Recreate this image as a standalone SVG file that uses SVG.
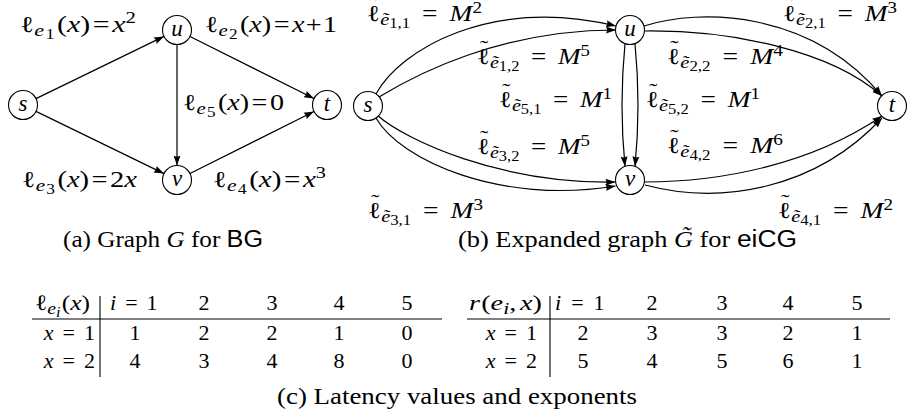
<svg xmlns="http://www.w3.org/2000/svg" width="908" height="420" viewBox="0 0 908 420">
<defs>
<style>
.t { font-family: "Liberation Serif", "Times New Roman", serif; font-size: 23px; fill: #000; }
.tb { font-family: "Liberation Serif", "Times New Roman", serif; font-size: 22px; fill: #000; }
.i { font-style: italic; }
.sb { font-size: 17px; }
.ss { font-size: 14px; }
.sp { font-size: 16px; }
.td { font-size: 21px; }
.sf { font-family: "Liberation Sans", Arial, sans-serif; }
.c { text-anchor: middle; }
.r { text-anchor: end; }
.n { fill: #fff; stroke: #000; stroke-width: 1.1; }
.e { fill: none; stroke: #000; stroke-width: 1.2; marker-end: url(#ah); }
.ln { stroke: #000; stroke-width: 1.1; fill: none; }
</style>
<marker id="ah" markerWidth="10" markerHeight="8" refX="10" refY="4" orient="auto" markerUnits="userSpaceOnUse">
<path d="M0,0.5 L10,4 L0,7.5 Q2,4 0,0.5 Z" fill="#000"/>
</marker>
</defs>

<!-- (a) connectors -->
<g id="edges-a">
<line class="e" x1="36" y1="98.6" x2="164" y2="36.4"/>
<line class="e" x1="190" y1="36.5" x2="314" y2="98.5"/>
<line class="e" x1="36" y1="111.4" x2="164" y2="173.6"/>
<line class="e" x1="190" y1="173.5" x2="314" y2="111.5"/>
<line class="e" x1="177" y1="44.5" x2="177" y2="165.5"/>
</g>

<g id="a-s"><circle class="n" cx="23" cy="105" r="14.5"/><text class="t i c" x="23" y="111">s</text></g>
<g id="a-u"><circle class="n" cx="177" cy="30" r="14.5"/><text class="t i c" x="177" y="36">u</text></g>
<g id="a-v"><circle class="n" cx="177" cy="180" r="14.5"/><text class="t i c" x="177" y="186">v</text></g>
<g id="a-t"><circle class="n" cx="327" cy="105" r="14.5"/><text class="t i c" x="327" y="111">t</text></g>

<g id="labels-a">
<text class="t" x="20" y="32" textLength="116" lengthAdjust="spacingAndGlyphs">ℓ<tspan class="i sb" dy="4">e</tspan><tspan class="ss" dx="1" dy="3">1</tspan><tspan dx="2" dy="-7">(</tspan><tspan class="i">x</tspan>)<tspan dx="2">=</tspan><tspan class="i" dx="2">x</tspan><tspan class="sp" dy="-9">2</tspan></text>
<text class="t" x="205" y="32" textLength="132" lengthAdjust="spacingAndGlyphs">ℓ<tspan class="i sb" dy="4">e</tspan><tspan class="ss" dx="1" dy="3">2</tspan><tspan dx="2" dy="-7">(</tspan><tspan class="i">x</tspan>)<tspan dx="2">=</tspan><tspan class="i" dx="2">x</tspan><tspan dx="1">+</tspan><tspan dx="1">1</tspan></text>
<text class="t" x="183" y="110" textLength="101" lengthAdjust="spacingAndGlyphs">ℓ<tspan class="i sb" dy="4">e</tspan><tspan class="ss" dx="1" dy="3">5</tspan><tspan dx="2" dy="-7">(</tspan><tspan class="i">x</tspan>)<tspan dx="2">=</tspan><tspan dx="2">0</tspan></text>
<text class="t" x="22" y="187" textLength="115" lengthAdjust="spacingAndGlyphs">ℓ<tspan class="i sb" dy="4">e</tspan><tspan class="ss" dx="1" dy="3">3</tspan><tspan dx="2" dy="-7">(</tspan><tspan class="i">x</tspan>)<tspan dx="2">=</tspan><tspan dx="2">2</tspan><tspan class="i">x</tspan></text>
<text class="t" x="213" y="187" textLength="113" lengthAdjust="spacingAndGlyphs">ℓ<tspan class="i sb" dy="4">e</tspan><tspan class="ss" dx="1" dy="3">4</tspan><tspan dx="2" dy="-7">(</tspan><tspan class="i">x</tspan>)<tspan dx="2">=</tspan><tspan class="i" dx="2">x</tspan><tspan class="sp" dy="-9">3</tspan></text>
<text class="t" x="63" y="247" textLength="200" lengthAdjust="spacingAndGlyphs">(a) Graph <tspan class="i">G</tspan> for <tspan class="sf">BG</tspan></text>
</g>

<!-- (b) connectors -->
<g id="edges-b">
<path class="e" d="M376,94 C400,50 490,-4 616,26"/>
<path class="e" d="M379,97 C415,75 500,30 616,30"/>
<path class="e" d="M644,26 C700,8 810,10 882,96"/>
<path class="e" d="M645,31 C730,30 830,50 882,96"/>
<path class="e" d="M377,115 C405,140 500,184 615.5,182"/>
<path class="e" d="M376,118 C400,160 500,205 615.5,186"/>
<path class="e" d="M644,182 C720,182 810,165 882,116"/>
<path class="e" d="M645,185 C720,205 815,190 882,118"/>
<path class="e" d="M625,43.6 Q619,105 625,166.4"/>
<path class="e" d="M635,43.6 Q641,105 635,166.4"/>
</g>

<g id="b-s"><circle class="n" cx="368" cy="106" r="14.5"/><text class="t i c" x="368" y="112">s</text></g>
<g id="b-u"><circle class="n" cx="630" cy="30" r="14.5"/><text class="t i c" x="630" y="36">u</text></g>
<g id="b-v"><circle class="n" cx="630" cy="180" r="14.5"/><text class="t i c" x="630" y="186">v</text></g>
<g id="b-t"><circle class="n" cx="892" cy="106" r="14.5"/><text class="t i c" x="892" y="112">t</text></g>

<g id="labels-b">
<text class="t" x="367" y="21" textLength="115" lengthAdjust="spacingAndGlyphs">ℓ<tspan class="td" dx="-8.5" dy="-9">˜</tspan><tspan class="i sb" dx="1.5" dy="13">ẽ</tspan><tspan class="ss" dy="3">1,1</tspan><tspan dx="10" dy="-7">=</tspan><tspan class="i" dx="10">M</tspan><tspan class="sp" dy="-8">2</tspan></text>
<text class="t" x="477" y="64" textLength="113" lengthAdjust="spacingAndGlyphs">ℓ<tspan class="td" dx="-8.5" dy="-9">˜</tspan><tspan class="i sb" dx="1.5" dy="13">ẽ</tspan><tspan class="ss" dy="3">1,2</tspan><tspan dx="10" dy="-7">=</tspan><tspan class="i" dx="10">M</tspan><tspan class="sp" dy="-8">5</tspan></text>
<text class="t" x="499" y="107" textLength="113" lengthAdjust="spacingAndGlyphs">ℓ<tspan class="td" dx="-8.5" dy="-9">˜</tspan><tspan class="i sb" dx="1.5" dy="13">ẽ</tspan><tspan class="ss" dy="3">5,1</tspan><tspan dx="10" dy="-7">=</tspan><tspan class="i" dx="10">M</tspan><tspan class="sp" dy="-8">1</tspan></text>
<text class="t" x="783" y="21" textLength="114" lengthAdjust="spacingAndGlyphs">ℓ<tspan class="td" dx="-8.5" dy="-9">˜</tspan><tspan class="i sb" dx="1.5" dy="13">ẽ</tspan><tspan class="ss" dy="3">2,1</tspan><tspan dx="10" dy="-7">=</tspan><tspan class="i" dx="10">M</tspan><tspan class="sp" dy="-8">3</tspan></text>
<text class="t" x="667" y="64" textLength="116" lengthAdjust="spacingAndGlyphs">ℓ<tspan class="td" dx="-8.5" dy="-9">˜</tspan><tspan class="i sb" dx="1.5" dy="13">ẽ</tspan><tspan class="ss" dy="3">2,2</tspan><tspan dx="10" dy="-7">=</tspan><tspan class="i" dx="10">M</tspan><tspan class="sp" dy="-8">4</tspan></text>
<text class="t" x="646" y="107" textLength="114" lengthAdjust="spacingAndGlyphs">ℓ<tspan class="td" dx="-8.5" dy="-9">˜</tspan><tspan class="i sb" dx="1.5" dy="13">ẽ</tspan><tspan class="ss" dy="3">5,2</tspan><tspan dx="10" dy="-7">=</tspan><tspan class="i" dx="10">M</tspan><tspan class="sp" dy="-8">1</tspan></text>
<text class="t" x="477" y="154" textLength="113" lengthAdjust="spacingAndGlyphs">ℓ<tspan class="td" dx="-8.5" dy="-9">˜</tspan><tspan class="i sb" dx="1.5" dy="13">ẽ</tspan><tspan class="ss" dy="3">3,2</tspan><tspan dx="10" dy="-7">=</tspan><tspan class="i" dx="10">M</tspan><tspan class="sp" dy="-8">5</tspan></text>
<text class="t" x="667" y="153" textLength="116" lengthAdjust="spacingAndGlyphs">ℓ<tspan class="td" dx="-8.5" dy="-9">˜</tspan><tspan class="i sb" dx="1.5" dy="13">ẽ</tspan><tspan class="ss" dy="3">4,2</tspan><tspan dx="10" dy="-7">=</tspan><tspan class="i" dx="10">M</tspan><tspan class="sp" dy="-8">6</tspan></text>
<text class="t" x="368" y="218" textLength="115" lengthAdjust="spacingAndGlyphs">ℓ<tspan class="td" dx="-8.5" dy="-9">˜</tspan><tspan class="i sb" dx="1.5" dy="13">ẽ</tspan><tspan class="ss" dy="3">3,1</tspan><tspan dx="10" dy="-7">=</tspan><tspan class="i" dx="10">M</tspan><tspan class="sp" dy="-8">3</tspan></text>
<text class="t" x="778" y="218" textLength="115" lengthAdjust="spacingAndGlyphs">ℓ<tspan class="td" dx="-8.5" dy="-9">˜</tspan><tspan class="i sb" dx="1.5" dy="13">ẽ</tspan><tspan class="ss" dy="3">4,1</tspan><tspan dx="10" dy="-7">=</tspan><tspan class="i" dx="10">M</tspan><tspan class="sp" dy="-8">2</tspan></text>
<text class="t" x="458" y="247" textLength="339" lengthAdjust="spacingAndGlyphs">(b) Expanded graph <tspan class="i">G̃</tspan> for <tspan class="sf">eiCG</tspan></text>
</g>

<!-- (c) tables -->
<g id="table-latency">
<line class="ln" x1="32" y1="319" x2="442" y2="319"/>
<line class="ln" x1="100" y1="296" x2="100" y2="377"/>
<text class="tb" x="35" y="310" textLength="55" lengthAdjust="spacingAndGlyphs">ℓ<tspan class="i sb" dy="4">e</tspan><tspan class="ss i" dy="3">i</tspan><tspan dx="1" dy="-7">(</tspan><tspan class="i">x</tspan>)</text>
<text class="tb" x="110" y="310"><tspan class="i">i</tspan><tspan dx="9">=</tspan><tspan dx="9">1</tspan></text>
<text class="tb c" x="204" y="310">2</text><text class="tb c" x="272" y="310">3</text><text class="tb c" x="339" y="310">4</text><text class="tb c" x="407" y="310">5</text>
<text class="tb r" x="95" y="340"><tspan class="i">x</tspan><tspan dx="9">=</tspan><tspan dx="9">1</tspan></text>
<text class="tb c" x="135" y="340">1</text><text class="tb c" x="204" y="340">2</text><text class="tb c" x="272" y="340">2</text><text class="tb c" x="339" y="340">1</text><text class="tb c" x="407" y="340">0</text>
<text class="tb r" x="95" y="368"><tspan class="i">x</tspan><tspan dx="9">=</tspan><tspan dx="9">2</tspan></text>
<text class="tb c" x="135" y="368">4</text><text class="tb c" x="204" y="368">3</text><text class="tb c" x="272" y="368">4</text><text class="tb c" x="339" y="368">8</text><text class="tb c" x="407" y="368">0</text>
</g>

<g id="table-exponents">
<line class="ln" x1="467" y1="319" x2="890" y2="319"/>
<line class="ln" x1="550" y1="296" x2="550" y2="377"/>
<text class="tb" x="469" y="310" textLength="73" lengthAdjust="spacingAndGlyphs"><tspan class="i">r</tspan><tspan dx="1">(</tspan><tspan class="i">e</tspan><tspan class="i sb" dy="4">i</tspan><tspan dy="-4">,</tspan><tspan class="i" dx="3">x</tspan>)</text>
<text class="tb" x="555" y="310"><tspan class="i">i</tspan><tspan dx="10">=</tspan><tspan dx="10">1</tspan></text>
<text class="tb c" x="652" y="310">2</text><text class="tb c" x="722" y="310">3</text><text class="tb c" x="788" y="310">4</text><text class="tb c" x="857" y="310">5</text>
<text class="tb r" x="537" y="340"><tspan class="i">x</tspan><tspan dx="9">=</tspan><tspan dx="9">1</tspan></text>
<text class="tb c" x="583" y="340">2</text><text class="tb c" x="652" y="340">3</text><text class="tb c" x="722" y="340">3</text><text class="tb c" x="788" y="340">2</text><text class="tb c" x="857" y="340">1</text>
<text class="tb r" x="537" y="368"><tspan class="i">x</tspan><tspan dx="9">=</tspan><tspan dx="9">2</tspan></text>
<text class="tb c" x="583" y="368">5</text><text class="tb c" x="652" y="368">4</text><text class="tb c" x="722" y="368">5</text><text class="tb c" x="788" y="368">6</text><text class="tb c" x="857" y="368">1</text>
</g>

<text class="t" x="277" y="404" textLength="360" lengthAdjust="spacingAndGlyphs">(c) Latency values and exponents</text>
</svg>
